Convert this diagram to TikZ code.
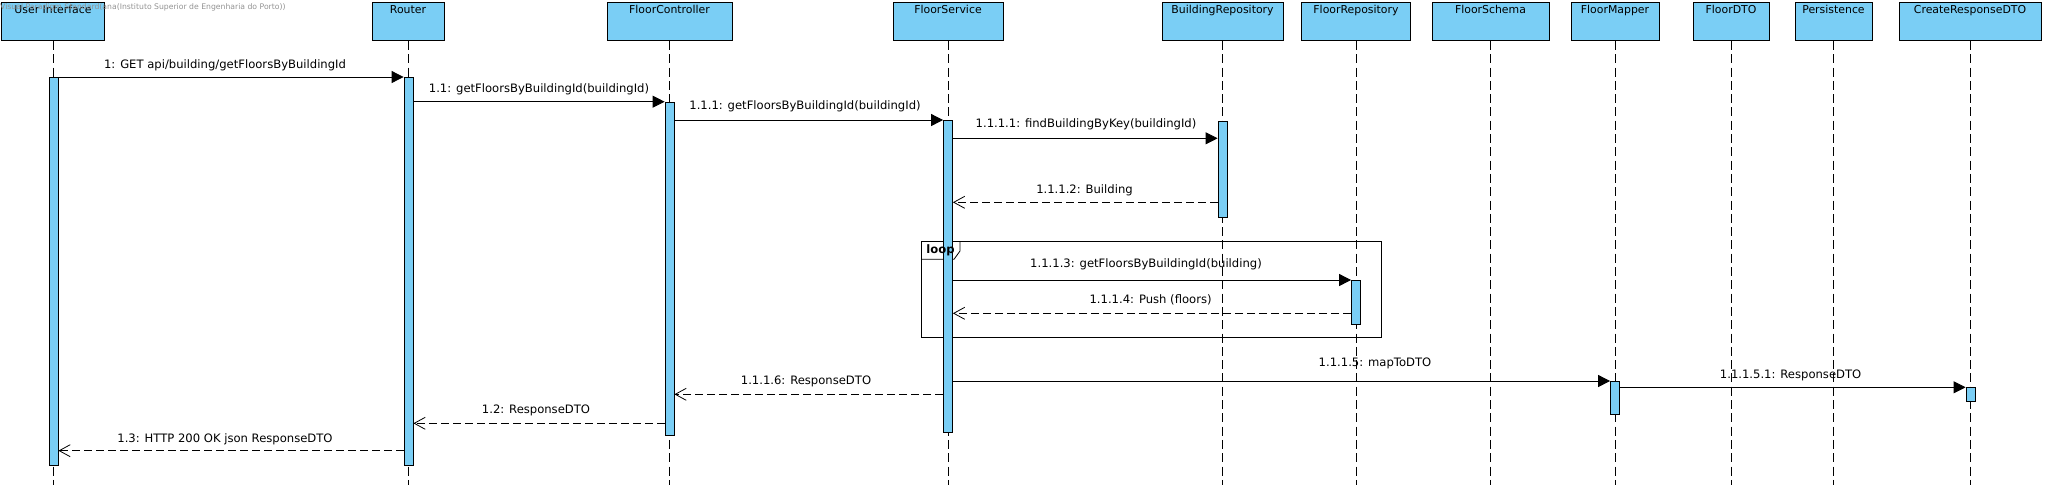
\documentclass[tikz,border=0pt]{standalone}
\usepackage{fontspec}
\setmainfont{DejaVu Sans}
\usetikzlibrary{arrows.meta, positioning}
\definecolor{vpblue}{RGB}{122,206,245}
\newcommand\msgfont{\fontsize{11.6}{14}\selectfont}
\newcommand\headfont{\fontsize{10.9}{13}\selectfont}

\begin{document}
\begin{tikzpicture}[x=1pt, y=-1pt,
    head/.style={draw, line width=0.9pt, fill=vpblue, minimum height=38pt,
                 anchor=north, inner sep=0pt,
                 label={[anchor=north, font=\headfont, inner sep=0pt, yshift=-3pt]north:#1}},
    life/.style={line width=0.7pt, dash pattern=on 9pt off 4.3pt},
    act/.style={draw, line width=0.8pt, fill=vpblue, minimum width=9pt,
                anchor=north, inner sep=0pt},
    call/.style={line width=0.8pt, -{Triangle[length=12pt, width=12pt]}},
    reply/.style={line width=0.8pt, dash pattern=on 8pt off 4pt,
                  -{Straight Barb[length=11pt, width=12pt, line width=0.8pt]}},
    msg/.style={font=\msgfont, inner sep=0pt},
    frame/.style={line width=0.8pt}
]
\useasboundingbox (0,0) rectangle (2047,491);

% Lifeline heads
\node[head=User Interface, minimum width=103pt] (ui) at (53,2) {};
\node[head=Router, minimum width=72pt] (router) at (408,2) {};
\node[head=FloorController, minimum width=125pt] (fc) at (669.5,2) {};
\node[head=FloorService, minimum width=110pt] (fs) at (948,2) {};
\node[head=BuildingRepository, minimum width=121pt] (br) at (1222.5,2) {};
\node[head=FloorRepository, minimum width=109pt] (fr) at (1356,2) {};
\node[head=FloorSchema, minimum width=117pt] (fsch) at (1490.5,2) {};
\node[head=FloorMapper, minimum width=88pt] (fm) at (1615,2) {};
\node[head=FloorDTO, minimum width=76pt] (fdto) at (1731,2) {};
\node[head=Persistence, minimum width=77pt] (pers) at (1833.5,2) {};
\node[head=CreateResponseDTO, minimum width=142pt] (crdto) at (1970,2) {};

\node[anchor=west, text=gray!85, font=\fontsize{7.7}{9}\selectfont, inner sep=0pt]
  (wm) at (0,7) {Visual Paradigm Standard(ana(Instituto Superior de Engenharia do Porto))};

% Lifelines
\foreach \n in {ui,router,fc,fs,br,fr,fsch,fm,fdto,pers,crdto}
  \draw[life] (\n.south) -- (\n.south |- 0,485);

% Loop fragment
\draw[frame] (921.7,241.5) rectangle (1381.6,337.3);
\draw[frame] (921.7,259.3) -- (954,259.3) -- (960,251) -- (960,241.5);

% Activations
\node[act, minimum height=388pt] (aUI) at (53.5,77) {};
\node[act, minimum height=388pt] (aR) at (408.5,77) {};
\node[act, minimum height=333pt] (aFC) at (669.5,101.7) {};
\node[act, minimum height=312pt] (aFS) at (948,120) {};
\node[act, minimum height=96pt] (aBR) at (1222.5,120.5) {};
\node[act, minimum height=44pt] (aFR) at (1356,280) {};
\node[act, minimum height=33pt] (aFM) at (1615,381) {};
\node[act, minimum height=14pt] (aCR) at (1970.5,387.3) {};

\node[font=\bfseries\msgfont, inner sep=0pt] (looptag) at (940.5,250.5) {loop};

% Messages
\draw[call] (aUI.east |- 0,77) -- (aR.west |- 0,77);
\node[msg] (l1) at (225,65) {1: GET api/building/getFloorsByBuildingId};

\draw[call] (aR.east |- 0,101.7) -- (aFC.west |- 0,101.7);
\node[msg] (l11) at (539,89) {1.1: getFloorsByBuildingId(buildingId)};

\draw[call] (aFC.east |- 0,120) -- (aFS.west |- 0,120);
\node[msg] (l111) at (805,106) {1.1.1: getFloorsByBuildingId(buildingId)};

\draw[call] (aFS.east |- 0,138.3) -- (aBR.west |- 0,138.3);
\node[msg] (l1111) at (1086,124) {1.1.1.1: findBuildingByKey(buildingId)};

\draw[reply] (aBR.west |- 0,202.3) -- (aFS.east |- 0,202.3);
\node[msg] (l1112) at (1084.5,190) {1.1.1.2: Building};

\draw[call] (aFS.east |- 0,280) -- (aFR.west |- 0,280);
\node[msg] (l1113) at (1146,264) {1.1.1.3: getFloorsByBuildingId(building)};

\draw[reply] (aFR.west |- 0,313.3) -- (aFS.east |- 0,313.3);
\node[msg] (l1114) at (1150.6,300) {1.1.1.4: Push (floors)};

\draw[call] (aFS.east |- 0,381) -- (aFM.west |- 0,381);
\node[msg] (l1115) at (1375,363.3) {1.1.1.5: mapToDTO};

\draw[call] (aFM.east |- 0,387.3) -- (aCR.west |- 0,387.3);
\node[msg] (l11151) at (1790.6,375) {1.1.1.5.1: ResponseDTO};

\draw[reply] (aFS.west |- 0,394.3) -- (aFC.east |- 0,394.3);
\node[msg] (l1116) at (806,381.7) {1.1.1.6: ResponseDTO};

\draw[reply] (aFC.west |- 0,423.3) -- (aR.east |- 0,423.3);
\node[msg] (l12) at (536,410) {1.2: ResponseDTO};

\draw[reply] (aR.west |- 0,450.7) -- (aUI.east |- 0,450.7);
\node[msg] (l13) at (225,439) {1.3: HTTP 200 OK json ResponseDTO};

\end{tikzpicture}
\end{document}
